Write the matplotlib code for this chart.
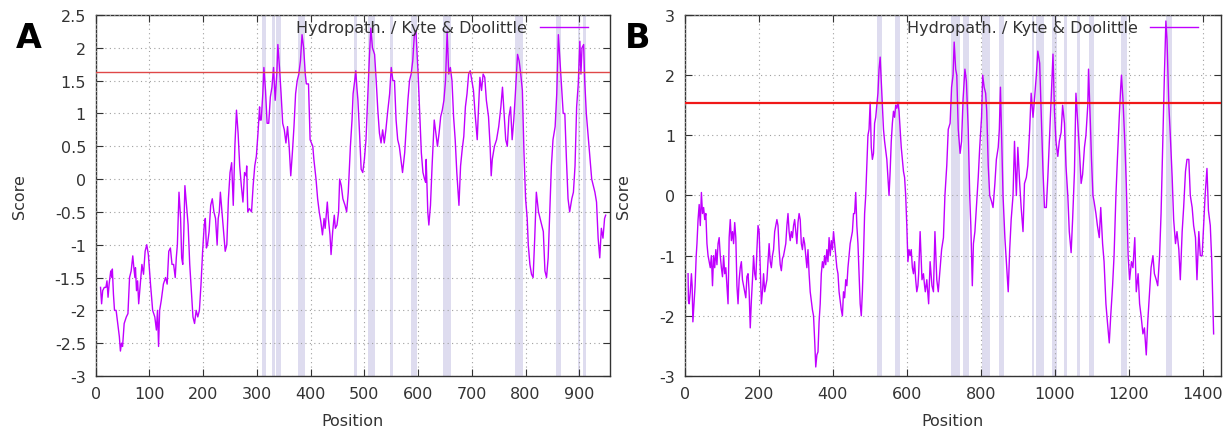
import matplotlib
matplotlib.use('Agg')
import matplotlib.pyplot as plt
from matplotlib.ticker import MultipleLocator, FormatStrFormatter

# ---- panel A: Kyte & Doolittle hydropathy ----
a_pos = [9, 11, 13, 16, 19, 21, 23, 25, 28, 30, 31, 33, 35, 38, 41, 44, 46, 48, 50, 53, 57, 60, 63, 66, 69, 71, 73, 74,
         76, 78, 80, 83, 86, 89, 92, 95, 98, 102, 106, 110, 113, 115, 117, 119, 122, 126, 130, 133, 136, 139, 142, 145,
         148, 150, 152, 155, 158, 160, 162, 164, 166, 169, 172, 175, 178, 181, 184, 187, 190, 193, 196, 199, 202, 204,
         206, 208, 211, 214, 217, 220, 223, 226, 228, 230, 232, 235, 238, 241, 244, 247, 250, 253, 256, 259, 262, 265,
         268, 271, 274, 277, 280, 281, 283, 286, 290, 293, 296, 299, 302, 305, 306, 308, 311, 313, 316, 319, 322, 325,
         328, 331, 334, 337, 339, 342, 345, 348, 351, 354, 357, 360, 363, 366, 369, 372, 375, 378, 381, 384, 387, 390,
         392, 396, 399, 404, 406, 410, 413, 416, 419, 422, 425, 427, 431, 433, 436, 438, 441, 444, 446, 449, 452, 454,
         457, 460, 464, 467, 470, 474, 477, 479, 482, 484, 486, 488, 491, 494, 497, 500, 503, 506, 509, 512, 515, 519,
         522, 525, 528, 531, 534, 537, 540, 543, 547, 550, 553, 556, 559, 562, 565, 568, 571, 575, 578, 581, 584, 587,
         590, 593, 596, 600, 602, 606, 609, 612, 614, 615, 618, 620, 623, 626, 630, 633, 636, 639, 642, 645, 648, 651,
         654, 657, 660, 663, 666, 669, 672, 676, 679, 682, 685, 688, 691, 694, 697, 700, 703, 706, 710, 712, 715, 718,
         721, 724, 727, 731, 734, 736, 738, 742, 746, 750, 754, 757, 760, 763, 766, 769, 772, 775, 778, 781, 785, 788,
         791, 794, 797, 800, 803, 805, 808, 811, 814, 817, 820, 824, 827, 830, 833, 836, 839, 842, 845, 848, 851, 855,
         858, 861, 864, 867, 870, 873, 876, 879, 882, 886, 889, 892, 895, 898, 901, 903, 905, 908, 910, 913, 917, 920,
         923, 926, 929, 932, 935, 938, 941, 944, 947, 949]
a_score = [-1.65, -1.9, -1.7, -1.65, -1.65, -1.55, -1.8, -1.6, -1.4, -1.5, -1.37, -1.75, -2.0, -2.0, -2.2, -2.4, -2.62,
           -2.5, -2.55, -2.2, -2.1, -2.05, -1.5, -1.4, -1.17, -1.35, -1.5, -1.35, -1.7, -1.55, -1.9, -1.6, -1.3, -1.45,
           -1.1, -1.0, -1.15, -1.6, -2.0, -2.1, -2.3, -2.0, -2.55, -2.0, -1.85, -1.6, -1.5, -1.6, -1.1, -1.05, -1.3,
           -1.3, -1.5, -1.2, -1.0, -0.2, -0.6, -1.2, -1.3, -0.8, -0.1, -0.4, -0.7, -1.3, -1.7, -2.1, -2.2, -2.0, -2.1,
           -2.0, -1.6, -1.1, -0.7, -0.6, -1.05, -1.0, -0.8, -0.4, -0.3, -0.5, -0.6, -1.0, -0.6, -0.5, -0.2, -0.5, -0.8,
           -1.1, -1.0, -0.3, 0.1, 0.25, -0.4, 0.5, 1.05, 0.7, 0.2, -0.1, -0.35, 0.1, 0.05, 0.2, -0.5, -0.45, -0.5, -0.1,
           0.2, 0.35, 0.7, 1.1, 0.9, 0.9, 1.3, 1.7, 1.35, 0.85, 0.85, 1.25, 1.4, 1.7, 1.2, 1.6, 2.05, 1.7, 1.3, 0.85,
           0.75, 0.55, 0.8, 0.5, 0.05, 0.4, 0.8, 1.3, 1.5, 1.6, 1.8, 2.2, 2.0, 1.6, 1.45, 1.45, 0.6, 0.5, 0.3, 0.0,
           -0.3, -0.5, -0.65, -0.85, -0.6, -0.75, -0.35, -0.6, -0.85, -1.15, -0.8, -0.55, -0.75, -0.7, -0.5, 0.0,
           -0.1, -0.3, -0.4, -0.5, -0.2, 0.5, 0.9, 1.3, 1.5, 1.65, 1.4, 1.2, 0.7, 0.15, 0.1, 0.3, 0.6, 1.2, 1.8, 2.3,
           2.0, 1.9, 1.5, 1.05, 0.7, 0.55, 0.75, 0.55, 0.75, 1.0, 1.3, 1.7, 1.5, 1.5, 0.9, 0.6, 0.5, 0.3, 0.1, 0.4,
           0.8, 1.2, 1.5, 1.6, 1.8, 2.2, 2.25, 1.6, 1.2, 0.4, 0.1, 0.0, -0.05, 0.3, -0.5, -0.7, -0.4, 0.2, 0.9, 0.7,
           0.5, 0.7, 0.95, 1.05, 1.2, 1.5, 2.25, 1.6, 1.7, 1.5, 0.95, 0.6, 0.1, -0.4, 0.2, 0.45, 0.65, 1.1, 1.3, 1.6,
           1.65, 1.5, 1.35, 1.0, 0.6, 1.0, 1.55, 1.35, 1.6, 1.55, 1.2, 0.95, 0.5, 0.05, 0.3, 0.5, 0.6, 0.8, 1.1, 1.4,
           1.0, 0.6, 0.5, 0.95, 1.1, 0.6, 0.9, 1.3, 1.9, 1.8, 1.6, 1.35, 0.4, -0.3, -0.6, -1.0, -1.3, -1.45, -1.5,
           -0.9, -0.2, -0.5, -0.6, -0.7, -0.8, -1.4, -1.5, -1.2, -0.5, 0.2, 0.6, 0.8, 1.3, 2.2, 1.8, 1.4, 1.0, 1.0,
           0.3, -0.3, -0.5, -0.3, -0.2, 0.2, 1.1, 1.45, 2.1, 1.6, 2.0, 2.05, 1.5, 1.0, 0.6, 0.3, 0.0, -0.1, -0.2,
           -0.35, -0.9, -1.2, -0.75, -0.9, -0.6, -0.55]
a_cutoff = 1.63
a_bands = [(310, 317), (329, 333), (336, 344), (377, 390), (481, 486), (506, 519), (548, 554), (587, 597),
           (647, 661), (781, 795), (857, 865), (897, 901), (906, 913)]

# ---- panel B ----
b_pos = [9, 10, 12, 15, 18, 20, 22, 25, 28, 31, 33, 36, 39, 42, 45, 48, 51, 54, 57, 60, 63, 66, 69, 72, 75, 78, 81, 84,
         87, 90, 93, 96, 99, 102, 105, 108, 111, 114, 117, 120, 123, 126, 129, 132, 135, 138, 141, 144, 147, 150, 153,
         156, 159, 162, 165, 168, 171, 174, 177, 180, 183, 186, 189, 192, 195, 198, 201, 204, 207, 210, 213, 216, 219,
         222, 225, 228, 231, 234, 237, 240, 243, 246, 249, 252, 255, 258, 261, 264, 267, 270, 273, 276, 279, 282, 285,
         288, 291, 294, 297, 300, 303, 306, 309, 312, 315, 318, 321, 324, 327, 330, 333, 336, 339, 342, 345, 348, 351,
         354, 357, 360, 363, 366, 369, 372, 375, 378, 381, 384, 387, 390, 393, 396, 399, 402, 405, 408, 411, 414, 417,
         420, 423, 426, 429, 432, 435, 438, 441, 444, 447, 450, 453, 456, 459, 462, 465, 468, 471, 474, 477, 480, 483,
         486, 489, 492, 495, 498, 501, 504, 507, 510, 513, 516, 519, 522, 525, 528, 531, 534, 537, 540, 543, 546, 549,
         552, 555, 558, 561, 564, 567, 570, 573, 576, 579, 582, 585, 588, 591, 594, 597, 600, 603, 606, 609, 612, 615,
         618, 621, 624, 627, 630, 632, 636, 639, 641, 645, 648, 650, 654, 659, 663, 668, 672, 676, 681, 685, 690, 694,
         699, 703, 708, 712, 717, 721, 725, 728, 732, 735, 739, 744, 748, 752, 757, 761, 766, 770, 773, 777, 780, 784,
         788, 793, 797, 802, 805, 809, 813, 816, 820, 824, 829, 833, 838, 842, 847, 850, 853, 856, 860, 865, 869, 874,
         878, 882, 887, 891, 896, 900, 905, 909, 914, 918, 923, 927, 932, 936, 941, 945, 950, 954, 959, 963, 968, 972,
         977, 981, 986, 990, 995, 999, 1003, 1008, 1012, 1017, 1021, 1026, 1030, 1035, 1039, 1044, 1048, 1053, 1057,
         1062, 1066, 1071, 1075, 1080, 1084, 1089, 1091, 1096, 1099, 1103, 1106, 1111, 1115, 1120, 1124, 1129, 1133,
         1138, 1142, 1147, 1151, 1156, 1160, 1165, 1169, 1174, 1178, 1180, 1184, 1189, 1193, 1198, 1202, 1207, 1211,
         1216, 1220, 1225, 1229, 1233, 1238, 1242, 1247, 1251, 1256, 1260, 1265, 1269, 1274, 1278, 1283, 1287, 1292,
         1296, 1300, 1303, 1308, 1312, 1317, 1321, 1326, 1330, 1335, 1339, 1344, 1348, 1353, 1357, 1362, 1366, 1371,
         1375, 1380, 1384, 1389, 1393, 1398, 1402, 1406, 1411, 1415, 1420, 1424, 1429]
b_score = [-1.3, -1.75, -1.8, -1.6, -1.3, -1.5, -2.1, -1.8, -1.5, -1.0, -0.8, -0.4, -0.15, -0.5, 0.05, -0.3, -0.2,
           -0.4, -0.3, -0.8, -1.0, -1.1, -1.2, -1.0, -1.5, -1.0, -1.2, -0.9, -1.15, -0.8, -0.7, -1.0, -1.2, -1.35,
           -1.0, -1.3, -1.2, -1.5, -1.8, -0.7, -0.4, -0.75, -0.6, -0.8, -0.45, -0.7, -1.5, -1.8, -1.4, -1.2, -1.1,
           -1.4, -1.5, -1.6, -1.7, -1.35, -1.3, -1.6, -2.2, -1.75, -1.4, -1.0, -1.3, -1.4, -0.9, -0.5, -0.6, -1.2,
           -1.8, -1.6, -1.3, -1.6, -1.5, -1.4, -1.1, -0.8, -1.1, -1.2, -1.0, -0.9, -0.6, -0.5, -0.4, -0.5, -0.9,
           -1.15, -1.25, -1.05, -1.0, -0.9, -0.8, -0.5, -0.3, -0.6, -0.75, -0.6, -0.7, -0.5, -0.4, -0.6, -0.8, -0.45,
           -0.3, -0.4, -0.8, -0.9, -0.7, -0.8, -1.0, -1.2, -0.9, -1.3, -1.6, -1.75, -1.9, -2.0, -2.4, -2.85, -2.65,
           -2.6, -2.1, -1.8, -1.3, -1.1, -1.2, -1.0, -1.15, -0.9, -1.1, -0.7, -1.0, -0.75, -0.9, -0.6, -0.8, -1.0,
           -1.2, -1.3, -1.6, -1.75, -1.9, -2.0, -1.6, -1.7, -1.4, -1.5, -1.2, -1.0, -0.8, -0.7, -0.6, -0.3, -0.3,
           0.05, -0.5, -0.8, -1.3, -1.8, -2.0, -1.6, -1.0, -0.3, 0.0, 0.5, 1.0, 1.1, 1.55, 0.8, 0.6, 0.7, 1.2, 1.3,
           1.5, 1.7, 2.1, 2.3, 1.9, 1.5, 1.1, 0.9, 0.75, 0.6, 0.3, 0.0, 0.4, 0.9, 1.2, 1.4, 1.3, 1.5, 1.45, 1.55,
           1.4, 1.1, 0.8, 0.6, 0.4, 0.3, 0.0, -0.5, -1.1, -0.9, -1.0, -0.9, -1.2, -1.3, -1.1, -1.4, -1.6, -1.5, -1.3,
           -0.6, -1.1, -1.4, -1.3, -1.5, -1.6, -1.4, -1.8, -1.1, -1.5, -1.6, -0.6, -1.4, -1.6, -1.2, -0.9, -0.7, 0.0,
           0.5, 1.1, 1.2, 1.8, 2.0, 2.55, 2.1, 2.0, 1.1, 0.7, 0.9, 1.6, 2.1, 1.9, 1.1, 0.0, -0.5, -1.5, -0.8, -0.6,
           -0.2, 0.3, 0.8, 1.3, 2.0, 1.8, 1.7, 1.4, 0.5, 0.0, -0.1, -0.2, 0.2, 0.6, 0.8, 1.1, 1.8, 1.0, 0.0, -0.7,
           -1.1, -1.6, -0.9, -0.4, 0.0, 0.9, 0.0, 0.8, 0.2, -0.2, -0.6, 0.2, 0.3, 0.5, 1.1, 1.7, 1.3, 1.6, 2.0, 2.4,
           2.2, 1.4, 0.4, -0.2, -0.2, 0.3, 1.0, 1.6, 2.35, 1.4, 0.9, 0.65, 0.9, 1.05, 1.5, 1.2, 0.5, 0.0, -0.6,
           -0.95, -0.4, 0.4, 1.7, 1.2, 0.8, 0.2, 0.35, 0.8, 1.0, 1.5, 2.1, 1.2, 0.6, 0.0, -0.1, -0.3, -0.5, -0.7,
           -0.2, -0.8, -1.1, -1.8, -2.1, -2.45, -2.0, -1.5, -1.0, 0.0, 0.6, 1.3, 1.8, 2.0, 1.6, 0.9, 0.2, -1.0, -1.4,
           -1.1, -1.2, -0.7, -1.6, -1.3, -1.8, -2.0, -2.3, -2.2, -2.65, -2.1, -1.6, -1.2, -1.0, -1.3, -1.4, -1.5,
           -1.0, -0.3, 1.0, 2.0, 2.9, 2.6, 1.5, 1.0, 0.3, -0.4, -0.8, -0.6, -0.9, -1.4, -0.6, -0.2, 0.4, 0.6, 0.6,
           0.0, -0.2, -0.5, -0.7, -1.4, -0.6, -1.0, -1.0, -0.5, 0.0, 0.45, -0.25, -0.5, -1.1, -2.3]
b_cutoff = 1.53
b_bands = [(520, 533), (569, 582), (719, 745), (751, 769), (804, 824), (850, 862), (938, 943), (949, 970),
           (992, 1005), (1025, 1034), (1060, 1067), (1092, 1105), (1178, 1195), (1299, 1316)]

line_col = '#c000ff'
band_col = '#dedcef'
txt_col = '#333333'
fs = 11.5

plt.rcParams['font.family'] = 'DejaVu Sans'
plt.rcParams['font.size'] = fs

fig = plt.figure(figsize=(12.3, 4.31), dpi=100)
ax_a = fig.add_axes([0.0778, 0.1253, 0.4181, 0.8376])
ax_b = fig.add_axes([0.5567, 0.1253, 0.4357, 0.8376])


def draw_panel(ax, pos, score, bands, cutoff, xmax, ylo, yhi, xstep, ystep, red_col, red_lw, leg_x):
    for s, e in bands:
        ax.axvspan(s, e, color=band_col, lw=0, zorder=1)
    ax.plot(pos, score, color=line_col, lw=1.0, zorder=3, label='Hydropath. / Kyte & Doolittle')
    ax.axhline(cutoff, color=red_col, lw=red_lw, zorder=4)
    ax.set_xlim(0, xmax)
    ax.set_ylim(ylo, yhi)
    ax.xaxis.set_major_locator(MultipleLocator(xstep))
    ax.yaxis.set_major_locator(MultipleLocator(ystep))
    ax.yaxis.set_major_formatter(FormatStrFormatter('%g'))
    ax.grid(True, color='#a0a0a0', ls=(0, (1, 3)), lw=0.8, zorder=2)
    ax.set_axisbelow(False)
    ax.tick_params(direction='in', top=True, right=True, length=5, colors=txt_col, labelsize=fs, pad=7)
    for sp in ax.spines.values():
        sp.set_color('#333333')
        sp.set_linewidth(1.0)
    ax.set_xlabel('Position', color=txt_col, fontsize=fs, labelpad=9)
    ax.set_ylabel('Score', color=txt_col, fontsize=fs, labelpad=20)
    leg = ax.legend(loc='upper right', frameon=False, markerfirst=False, handlelength=3.0,
                    handletextpad=0.8, fontsize=fs, borderaxespad=0, borderpad=0,
                    bbox_to_anchor=(leg_x, 0.985))
    for t in leg.get_texts():
        t.set_color(txt_col)


draw_panel(ax_a, a_pos, a_score, a_bands, a_cutoff, 957, -3, 2.5, 100, 0.5, '#e04848', 1.0, 0.957)
draw_panel(ax_b, b_pos, b_score, b_bands, b_cutoff, 1448, -3, 3, 200, 1, '#f01818', 1.6, 0.958)

fig.text(0.013, 0.91, 'A', fontsize=24, fontweight='bold', va='center', ha='left')
fig.text(0.508, 0.91, 'B', fontsize=24, fontweight='bold', va='center', ha='left')

fig.savefig('out.png', dpi=100)
